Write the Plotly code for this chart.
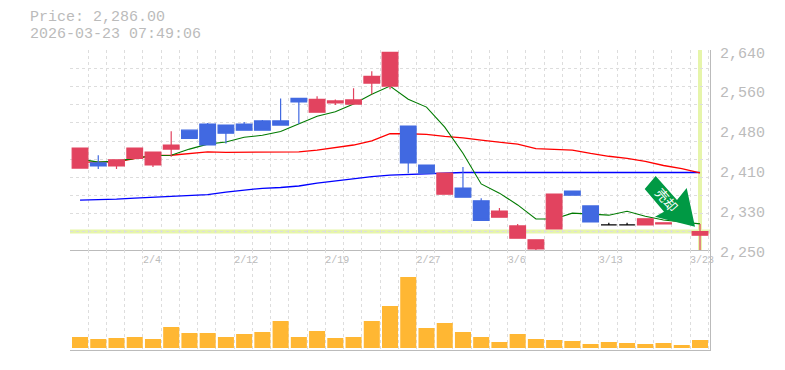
import plotly.graph_objects as go

# ---- data -----------------------------------------------------------
idx = list(range(35))
dates = {4: "2/4", 9: "2/12", 14: "2/19", 19: "2/27", 24: "3/6", 29: "3/13", 34: "3/23"}

opens = [2410, 2420, 2414, 2429, 2416, 2447, 2484, 2496, 2494, 2496, 2502, 2502, 2546, 2519, 2537, 2535, 2576, 2570,
         2492, 2416, 2359, 2371, 2346, 2314, 2273, 2252, 2291, 2365, 2336, 2299, 2299, 2299, 2301, 2307, 2279]
highs = [2449, 2435, 2426, 2449, 2441, 2482, 2484, 2498, 2494, 2500, 2504, 2546, 2546, 2550, 2544, 2566, 2599, 2636,
         2492, 2416, 2400, 2412, 2351, 2332, 2301, 2270, 2359, 2365, 2336, 2303, 2303, 2311, 2303, 2311, 2301]
lows = [2410, 2408, 2408, 2429, 2412, 2432, 2468, 2455, 2458, 2484, 2484, 2494, 2496, 2519, 2533, 2535, 2554, 2564,
        2400, 2400, 2359, 2353, 2308, 2314, 2273, 2250, 2291, 2357, 2305, 2299, 2299, 2299, 2301, 2307, 2250]
closes = [2449, 2414, 2426, 2449, 2441, 2455, 2468, 2455, 2478, 2484, 2484, 2494, 2539, 2544, 2541, 2543, 2589, 2636,
          2420, 2400, 2400, 2353, 2308, 2326, 2297, 2270, 2359, 2357, 2305, 2299, 2299, 2311, 2303, 2311, 2286]

ma_short = [2427.5, 2421.6, 2423.5, 2429.4, 2434.3, 2435, 2447, 2456.7, 2461, 2470, 2474, 2481.5, 2497, 2511, 2520,
            2535, 2554, 2570, 2544.5, 2529, 2490, 2439, 2379, 2361, 2338, 2310.5, 2310.5, 2322, 2320, 2318, 2325.5,
            2316, 2308.5, 2305, 2301]
ma_mid = [2421.6, 2421.6, 2422, 2428.4, 2434.7, 2435, 2439, 2441.7, 2440.5, 2440.5, 2441, 2441.7, 2441.7, 2445, 2450,
          2455, 2463, 2477, 2477, 2475.6, 2471.7, 2469, 2464.5, 2460, 2456.7, 2448, 2447, 2445, 2438.6, 2433, 2429,
          2423, 2415, 2409, 2400.7]
ma_long = [2347.5, 2348, 2349.5, 2351.4, 2353.4, 2354.7, 2356, 2358, 2363, 2367.4, 2370.5, 2372, 2375, 2380.7, 2385,
           2389.4, 2393.3, 2396, 2397.4, 2399.4, 2399.6, 2401.3, 2401.3, 2401.3, 2401.3, 2401.3, 2401.3, 2401.3,
           2401.3, 2401.3, 2401.3, 2401.3, 2401.3, 2401.3, 2401.3]
volume = [11, 9, 10, 11, 9, 21, 15, 15, 11, 14, 16, 27, 11, 17, 10, 11, 27, 42,
          71, 20, 25, 16, 11, 6, 14, 9, 8, 7, 4, 6, 5, 4, 5, 3, 8]
price_ticks = [2640, 2562, 2484, 2406, 2328, 2250]
price_labels = ["2,640", "2,560", "2,480", "2,410", "2,330", "2,250"]
price_title = "Price: 2,286.00"
time_title = "2026-03-23 07:49:06"
arrow_label = "売却"

# ---- style ----------------------------------------------------------
PAGE = 8  # default body margin of the page
W, H = 785 - PAGE, 370 - PAGE
L, R, T, B = 70, 710, 50, 350   # plot box in window pixels
GRID, AXIS, TXT = "#dddddd", "#bbbbbb", "#bbbbbb"
UP, DOWN = "#e2435f", "#4169e1"
MONO = "Liberation Mono"
px = lambda v: (v - L) / (R - L)
py = lambda v: (B - v) / (B - T)

doji = [i for i in idx if opens[i] == closes[i]]
body = [i for i in idx if opens[i] != closes[i]]
pick = lambda arr, ii: [arr[i] for i in ii]

fig = go.Figure()
for vals, col, w in [(ma_long, "#0000ff", 1.3), (ma_mid, "#ff0000", 1.3), (ma_short, "#007a00", 1.1)]:
    fig.add_trace(go.Scatter(x=idx, y=vals, mode="lines", line=dict(color=col, width=w),
                             xaxis="x", yaxis="y", hoverinfo="skip"))
fig.add_trace(go.Candlestick(x=body, open=pick(opens, body), high=pick(highs, body), low=pick(lows, body),
                             close=pick(closes, body), xaxis="x", yaxis="y3", whiskerwidth=0,
                             increasing=dict(line=dict(color=UP, width=1.2), fillcolor=UP),
                             decreasing=dict(line=dict(color=DOWN, width=1.2), fillcolor=DOWN)))
fig.add_trace(go.Candlestick(x=doji, open=pick(opens, doji), high=pick(highs, doji), low=pick(lows, doji),
                             close=pick(closes, doji), xaxis="x", yaxis="y3", whiskerwidth=0,
                             increasing=dict(line=dict(color="#000000", width=1.2), fillcolor="#000000"),
                             decreasing=dict(line=dict(color="#000000", width=1.2), fillcolor="#000000")))
fig.add_trace(go.Bar(x=idx, y=volume, marker=dict(color="#ffb733", line=dict(width=0)), width=0.88,
                     xaxis="x2", yaxis="y2", hoverinfo="skip"))

x_range = [-0.55, 34.548]
minor_x = dict(showgrid=True, tick0=-0.548, dtick=1, gridcolor=GRID, griddash="3px,3px", gridwidth=1, ticklen=0)
tick_x = [i - 0.548 + len(dates[i]) * 3 / 18.235 for i in dates]

p_range = [2250, 2640.5]
layout = dict(
    width=W, height=H, showlegend=False, paper_bgcolor="white", plot_bgcolor="white",
    margin=dict(l=L - PAGE, r=W - (R - PAGE), t=T - PAGE, b=H - (B - PAGE), pad=0, autoexpand=False),
    boxgap=0.14, boxgroupgap=0, bargap=0.12,
    xaxis=dict(domain=[0, 1], range=x_range, anchor="y", rangeslider=dict(visible=False), showgrid=False,
               zeroline=False, showline=True, linecolor=AXIS, linewidth=1, tickmode="array", tickvals=tick_x,
               ticktext=list(dates.values()), ticks="", tickangle=0, tickfont=dict(family=MONO, size=10, color=TXT),
               minor=minor_x, automargin=False),
    xaxis2=dict(domain=[0, 1], range=x_range, anchor="y2", showgrid=False, zeroline=False, showline=True,
                linecolor=AXIS, linewidth=1, showticklabels=False, ticks="", minor=minor_x, automargin=False),
    yaxis=dict(domain=[1 / 3, 1], range=p_range, side="right", anchor="x", showgrid=False, zeroline=False,
               showline=True, linecolor=AXIS, linewidth=1, tickmode="array", tickvals=price_ticks,
               ticktext=price_labels, ticks="", ticklabelshift=2, ticklabelstandoff=6, automargin=False,
               tickfont=dict(family=MONO, size=15, color=TXT),
               minor=dict(showgrid=True, tick0=2250, dtick=390 / 11, gridcolor=GRID, griddash="3px,3px",
                          gridwidth=1, ticklen=0)),
    yaxis2=dict(domain=[0, 1 / 3], range=[-2, 98], side="right", anchor="x2", showgrid=False, zeroline=False,
                showline=True, linecolor=AXIS, linewidth=1, showticklabels=False, ticks="", automargin=False),
    yaxis3=dict(domain=[1 / 3, 1], range=p_range, overlaying="y", side="right", anchor="x", showgrid=False,
                zeroline=False, showticklabels=False, ticks="", showline=False, automargin=False),
    shapes=[
        dict(type="line", xref="x", yref="paper", x0=idx[-1], x1=idx[-1], y0=py(250), y1=py(50), layer="below",
             line=dict(color="#e6f5aa", width=4)),
        dict(type="line", xref="paper", yref="y", x0=0, x1=1, y0=closes[-1], y1=closes[-1], layer="below",
             line=dict(color="#e6f5aa", width=4)),
        dict(type="path", xref="paper", yref="paper", layer="above", fillcolor="#009944", line=dict(width=0),
             path="M " + " L ".join(f"{px(a):.5f} {py(b):.5f}" for a, b in
                                    [(655.7, 176), (644.7, 189), (664, 211.7), (655, 216.7), (695, 226.7),
                                     (686.7, 188), (677, 200)]) + " Z"),
    ],
    annotations=[
        dict(text=price_title, xref="paper", yref="paper", x=px(28), y=py(17.3), xanchor="left", yanchor="middle",
             showarrow=False, font=dict(family=MONO, size=15, color=TXT)),
        dict(text=time_title, xref="paper", yref="paper", x=px(28), y=py(34.3), xanchor="left", yanchor="middle",
             showarrow=False, font=dict(family=MONO, size=15, color=TXT)),
        dict(text=arrow_label, xref="paper", yref="paper", x=px(666.7), y=py(199.5), xanchor="center",
             yanchor="middle", showarrow=False, textangle=49,
             font=dict(family="Noto Sans CJK JP", size=13, color="white")),
    ],
)
fig.update_layout(**layout)
fig.write_html("out.html", config={"displayModeBar": False})
